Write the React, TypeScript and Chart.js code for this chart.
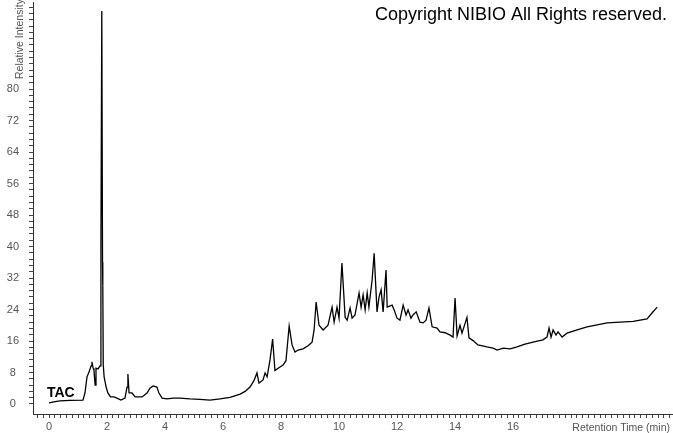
import React, { useEffect, useRef } from "react";
import { Chart, registerables } from "chart.js";

Chart.register(...registerables);

// Retention time (min)
const retentionTimes = [
  0.0, 0.21, 0.38, 0.72, 1.17, 1.24, 1.31, 1.38, 1.45, 1.48, 1.52, 1.55, 1.59, 1.62, 1.69, 1.76,
  1.79, 1.82, 1.845, 1.855, 1.87, 1.9, 1.97, 2.03, 2.12, 2.24, 2.34, 2.48, 2.62, 2.69, 2.72, 2.76,
  2.86, 2.97, 3.21, 3.38, 3.48, 3.59, 3.72, 3.79, 3.9, 4.07, 4.28, 4.52, 4.86, 5.2, 5.55, 5.9,
  6.24, 6.59, 6.76, 6.93, 7.07, 7.17, 7.24, 7.38, 7.45, 7.52, 7.62, 7.71, 7.79, 7.9, 8.07, 8.17,
  8.28, 8.38, 8.48, 8.59, 8.76, 8.93, 9.07, 9.14, 9.21, 9.31, 9.45, 9.62, 9.76, 9.83, 9.93, 10.0,
  10.1, 10.21, 10.28, 10.38, 10.45, 10.55, 10.69, 10.76, 10.83, 10.9, 10.97, 11.03, 11.14, 11.21,
  11.31, 11.38, 11.45, 11.52, 11.62, 11.66, 11.83, 11.9, 12.0, 12.1, 12.21, 12.31, 12.38, 12.48,
  12.55, 12.66, 12.79, 12.9, 13.0, 13.1, 13.21, 13.38, 13.48, 13.66, 13.83, 13.93, 14.0, 14.07,
  14.17, 14.24, 14.41, 14.48, 14.62, 14.79, 15.1, 15.31, 15.45, 15.66, 15.9, 16.14, 16.41, 16.69,
  17.03, 17.17, 17.24, 17.31, 17.38, 17.48, 17.55, 17.69, 17.86, 18.21, 18.55, 18.9, 19.24, 19.69,
  20.14, 20.62, 20.79, 20.97,
];

// Relative intensity (%)
const intensities = [
  0.3, 0.6, 0.8, 0.9, 1.0, 2.8, 6.9, 8.1, 9.7, 10.7, 9.1, 8.6, 4.8, 9.1, 8.9, 9.7,
  40.0, 99.8, 36.0, 30.0, 10.0, 6.9, 4.3, 2.8, 1.8, 1.8, 1.5, 1.0, 1.5, 4.3, 7.6, 2.8,
  2.8, 1.8, 1.8, 2.8, 4.0, 4.6, 4.3, 2.8, 1.5, 1.3, 1.5, 1.5, 1.3, 1.2, 1.0, 1.3,
  1.7, 2.5, 3.2, 4.3, 6.0, 7.9, 5.3, 6.1, 7.9, 6.9, 11.2, 16.5, 8.5, 9.1, 9.9, 11.0,
  19.8, 15.0, 13.2, 13.7, 14.0, 14.8, 15.7, 18.8, 25.9, 20.0, 18.8, 20.0, 24.6, 20.8, 24.6, 21.8,
  35.8, 22.0, 21.3, 24.4, 21.8, 22.6, 28.2, 24.6, 27.7, 23.9, 28.2, 24.6, 31.5, 38.3,
  23.4, 27.2, 29.0, 23.4, 34.0, 24.6, 25.1, 23.9, 21.8, 21.3, 25.1, 22.6, 23.9, 21.8,
  22.6, 23.4, 20.8, 20.6, 21.3, 24.4, 19.6, 19.3, 18.3, 18.1, 17.5, 17.0, 26.9, 17.3,
  20.0, 18.0, 22.0, 16.8, 16.1, 15.0, 14.5, 14.2, 13.7, 14.2, 14.0, 14.5, 15.2, 15.7,
  16.3, 17.0, 19.3, 17.0, 18.8, 17.5, 18.3, 17.0, 18.0, 18.8, 19.6, 20.1, 20.6, 20.8,
  21.0, 21.6, 23.1, 24.6,
];

const xTickLabels = ["0", "2", "4", "6", "8", "10", "12", "14", "16"];
const yTickLabels = ["0", "8", "16", "24", "32", "40", "48", "56", "64", "72", "80"];

const X_MIN = -0.552;
const X_MAX = 21.48;
const Y_MIN = -2.54;
const Y_MAX = 102.1;
const X_MINOR = 0.2;
const Y_MINOR = 1.6;

const textPlugin = {
  id: "chromTexts",
  afterDraw(chart: any) {
    const ctx = chart.ctx;
    ctx.save();
    ctx.fillStyle = "#000";
    ctx.font = '18px "Liberation Sans", Arial, sans-serif';
    ctx.textAlign = "right";
    ctx.textBaseline = "alphabetic";
    ctx.fillText("Copyright NIBIO All Rights reserved.", 667, 20);

    ctx.font = 'bold 14px "Liberation Sans", Arial, sans-serif';
    ctx.textAlign = "left";
    ctx.fillText("TAC", 47, 397);

    ctx.fillStyle = "#555";
    ctx.font = '10.5px "Liberation Sans", Arial, sans-serif';
    ctx.textAlign = "right";
    ctx.fillText("Retention Time (min)", 670, 431);

    ctx.translate(23, 79);
    ctx.rotate(-Math.PI / 2);
    ctx.textAlign = "left";
    ctx.font = '10.5px "Liberation Sans", Arial, sans-serif';
    ctx.fillText("Relative Intensity", 0, 0);
    ctx.restore();
  },
};

export default function App() {
  const canvasRef = useRef<HTMLCanvasElement | null>(null);

  useEffect(() => {
    if (!canvasRef.current) return;
    const points = retentionTimes.map((t, i) => ({ x: t, y: intensities[i] }));
    const chart = new Chart(canvasRef.current, {
      type: "line",
      data: {
        datasets: [
          {
            data: points,
            borderColor: "#000",
            borderWidth: 1.3,
            pointRadius: 0,
            tension: 0,
            fill: false,
          },
        ],
      },
      options: {
        animation: false,
        responsive: true,
        maintainAspectRatio: false,
        layout: { padding: { top: 2, right: 1, left: 0, bottom: 0 } },
        plugins: { legend: { display: false }, tooltip: { enabled: false } },
        scales: {
          x: {
            type: "linear",
            min: X_MIN,
            max: X_MAX,
            afterFit: (s: any) => {
              s.height = 19;
              s.paddingLeft = 0;
              s.paddingRight = 0;
            },
            afterBuildTicks: (s: any) => {
              const ticks = [];
              for (let k = -2; k * X_MINOR <= X_MAX; k++) ticks.push({ value: k * X_MINOR });
              s.ticks = ticks;
            },
            grid: {
              drawOnChartArea: false,
              drawTicks: true,
              tickLength: 4,
              tickColor: "#444",
            },
            border: { display: true, color: "#333", width: 1 },
            ticks: {
              autoSkip: false,
              maxRotation: 0,
              padding: 2,
              color: "#555",
              font: { family: '"Liberation Sans", Arial, sans-serif', size: 11 },
              callback: (v: any) => {
                const n = Math.round(Number(v) * 10) / 10;
                const lbl = String(n);
                return Number.isInteger(n) && xTickLabels.includes(lbl) ? lbl : "";
              },
            },
          },
          y: {
            type: "linear",
            min: Y_MIN,
            max: Y_MAX,
            afterFit: (s: any) => {
              s.width = 33;
              s.paddingTop = 0;
              s.paddingBottom = 0;
            },
            afterBuildTicks: (s: any) => {
              const ticks = [];
              for (let k = 0; k * Y_MINOR <= Y_MAX; k++) ticks.push({ value: k * Y_MINOR });
              s.ticks = ticks;
            },
            grid: {
              drawOnChartArea: false,
              drawTicks: true,
              tickLength: 4,
              tickColor: "#444",
            },
            border: { display: true, color: "#333", width: 1 },
            ticks: {
              autoSkip: false,
              padding: 10,
              crossAlign: "center",
              color: "#555",
              font: { family: '"Liberation Sans", Arial, sans-serif', size: 11 },
              callback: (v: any) => {
                const n = Math.round(Number(v) * 10) / 10;
                const lbl = String(n);
                return Number.isInteger(n) && yTickLabels.includes(lbl) ? lbl : "";
              },
            },
          },
        },
      },
      plugins: [textPlugin],
    } as any);
    return () => chart.destroy();
  }, []);

  return (
    <div style={{ position: "absolute", left: 0, top: 0, width: 673, height: 433, background: "#fff" }}>
      <canvas ref={canvasRef} />
    </div>
  );
}
